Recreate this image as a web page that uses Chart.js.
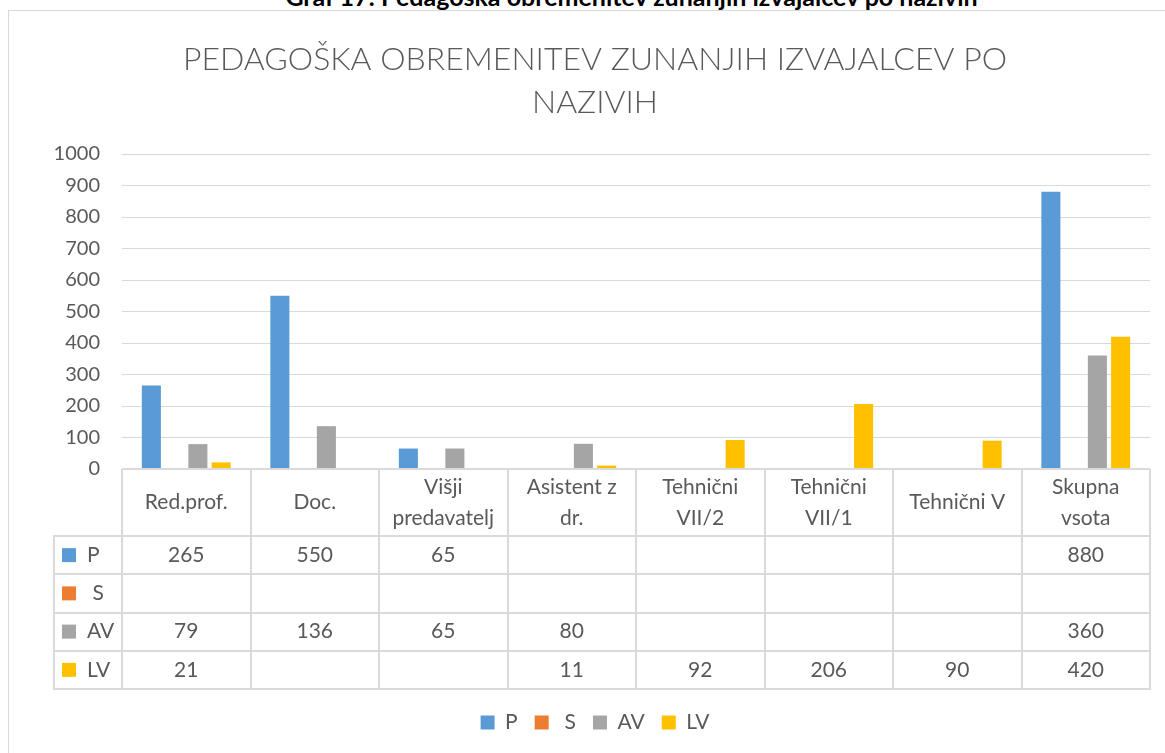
<!DOCTYPE html>
<html>
<head>
<meta charset="utf-8">
<script src="https://cdn.jsdelivr.net/npm/chart.js"></script>
<style>
  body { margin: 0; background: #fff; width: 1165px; height: 753px; overflow: hidden; position: relative; font-family: Lato, "Open Sans", sans-serif; }
  .caption { position: absolute; top: -16px; left: 0; width: 1263px; text-align: center; font-weight: bold; font-size: 25px; color: #000; line-height: 25px; white-space: nowrap; }
  .box { position: absolute; left: 8px; top: 10px; width: 1200px; height: 760px; border: 1px solid #d9d9d9; background: #fff; }
  canvas { display: block; }
</style>
</head>
<body>
<div class="caption">Graf 17: Pedagoška obremenitev zunanjih izvajalcev po nazivih</div>
<div class="box"><canvas id="c" width="1172" height="742"></canvas></div>
<script>
// categories and series
const categories = ['Red.prof.', 'Doc.', ['Višji', 'predavatelj'], ['Asistent z', 'dr.'], ['Tehnični', 'VII/2'], ['Tehnični', 'VII/1'], 'Tehnični V', ['Skupna', 'vsota']];
const seriesP = [265, 550, 65, null, null, null, null, 880];
const seriesS = [null, null, null, null, null, null, null, null];
const seriesAV = [79, 136, 65, 80, null, null, null, 360];
const seriesLV = [21, null, null, 11, 92, 206, 90, 420];
const yTicks = [0, 100, 200, 300, 400, 500, 600, 700, 800, 900, 1000];

const textColor = '#595959';
const gridColor = '#d9d9d9';
const fontFamily = 'Lato, "Open Sans", sans-serif';

// data table drawn under the plot area
const dataTable = {
  id: 'dataTable',
  afterDraw(chart) {
    const ctx = chart.ctx;
    const area = chart.chartArea;
    const n = categories.length;
    const colW = area.width / n;
    const headerH = 67;
    const rowH = 38.25;
    const labelLeft = area.left - 68;
    const top = area.bottom;
    const bottom = top + headerH + rowH * chart.data.datasets.length;

    ctx.save();
    ctx.strokeStyle = '#dadada';
    ctx.lineWidth = 2;
    ctx.beginPath();
    for (let i = 0; i <= n; i++) {
      const x = Math.round(area.left + i * colW);
      ctx.moveTo(x, top);
      ctx.lineTo(x, bottom);
    }
    ctx.moveTo(labelLeft, top + headerH);
    ctx.lineTo(labelLeft, bottom);
    ctx.moveTo(area.left, top);
    ctx.lineTo(area.right, top);
    for (let r = 0; r <= chart.data.datasets.length; r++) {
      const y = Math.round(top + headerH + r * rowH);
      ctx.moveTo(labelLeft - 1, y);
      ctx.lineTo(area.right + 1, y);
    }
    ctx.stroke();

    ctx.fillStyle = textColor;
    ctx.font = '21px ' + fontFamily;
    ctx.textAlign = 'center';
    ctx.textBaseline = 'middle';
    categories.forEach((cat, i) => {
      const cx = area.left + (i + 0.5) * colW;
      const lines = Array.isArray(cat) ? cat : [cat];
      const lh = 31;
      const startY = top + headerH / 2 - (lines.length - 1) * lh / 2;
      lines.forEach((ln, k) => ctx.fillText(ln, cx, startY + k * lh));
    });
    chart.data.datasets.forEach((ds, r) => {
      const cy = top + headerH + (r + 0.5) * rowH;
      ctx.fillStyle = ds.backgroundColor;
      ctx.fillRect(labelLeft + 8, cy - 7, 14, 14);
      ctx.fillStyle = textColor;
      ctx.textAlign = 'left';
      ctx.fillText(ds.label, labelLeft + 33, cy);
      ctx.textAlign = 'center';
      ds.data.forEach((v, i) => {
        if (v === null) return;
        ctx.fillText(String(v), area.left + (i + 0.5) * colW, cy);
      });
    });
    ctx.restore();
  }
};

new Chart(document.getElementById('c'), {
  type: 'bar',
  data: {
    labels: categories,
    datasets: [
      { label: 'P', data: seriesP, backgroundColor: '#5B9BD5' },
      { label: ' S', data: seriesS, backgroundColor: '#ED7D31' },
      { label: 'AV', data: seriesAV, backgroundColor: '#A5A5A5' },
      { label: 'LV', data: seriesLV, backgroundColor: '#FFC000' }
    ]
  },
  options: {
    responsive: false,
    animation: false,
    categoryPercentage: 0.724,
    barPercentage: 0.82,
    layout: { padding: { left: 31, right: 31, top: 0, bottom: 10 } },
    scales: {
      x: {
        grid: { display: false, drawTicks: false },
        border: { display: false },
        ticks: { display: false },
        afterFit(scale) { scale.height = 226; }
      },
      y: {
        min: 0,
        max: 1000,
        afterBuildTicks(scale) { scale.ticks = yTicks.map(v => ({ value: v })); },
        grid: { color: gridColor, drawTicks: false },
        border: { display: false },
        ticks: { color: textColor, font: { family: fontFamily, size: 20 }, padding: 22, callback: v => String(v) },
        afterFit(scale) { scale.width = 82; }
      }
    },
    plugins: {
      title: {
        display: true,
        text: ['PEDAGOŠKA OBREMENITEV ZUNANJIH IZVAJALCEV PO', 'NAZIVIH'],
        color: textColor,
        font: { family: fontFamily, size: 32, weight: 300, lineHeight: 1.344 },
        padding: { top: 27, bottom: 30 }
      },
      legend: {
        position: 'bottom',
        labels: { color: textColor, boxWidth: 14, boxHeight: 14, padding: 17, font: { family: fontFamily, size: 21 } }
      },
      tooltip: { enabled: false }
    }
  },
  plugins: [dataTable]
});
</script>
</body>
</html>
